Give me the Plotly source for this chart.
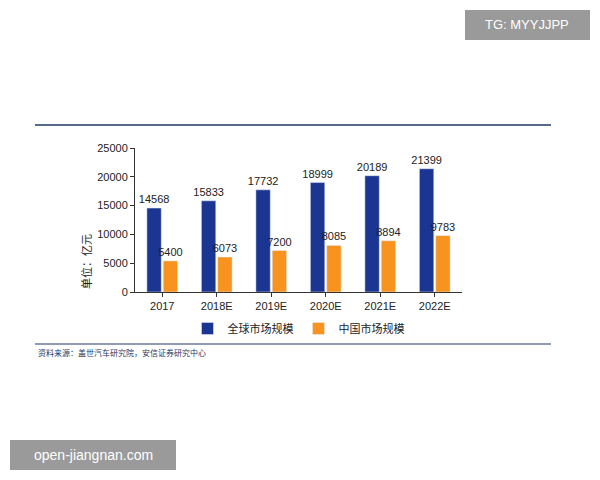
import plotly.graph_objects as go

years = ["2017", "2018E", "2019E", "2020E", "2021E", "2022E"]
global_market = [14568, 15833, 17732, 18999, 20189, 21399]
china_market = [5400, 6073, 7200, 8085, 8894, 9783]

# the page body adds an 8px margin, so lay out in page pixels minus 8
OFF = 8
W, H = 600 - 2 * OFF, 480 - 2 * OFF
L, R, T, B = 135 - OFF, 462 - OFF, 148 - OFF, 292 - OFF


def px_x(x):
    return (x - OFF - L) / (R - L)


def px_y(y):
    return (B - (y - OFF)) / (B - T)


fig = go.Figure()
fig.add_bar(x=years, y=global_market, name="全球市场规模", marker_color="#1B3592",
            text=global_market, textposition="outside", cliponaxis=False,
            constraintext="none", textfont=dict(size=11, color="#222"))
fig.add_bar(x=years, y=china_market, name="中国市场规模", marker_color="#F7931E",
            text=china_market, textposition="outside", cliponaxis=False,
            constraintext="none", textfont=dict(size=11, color="#222"))

fig.update_layout(
    width=W, height=H,
    margin=dict(l=L, r=W - R, t=T, b=H - B, autoexpand=False),
    paper_bgcolor="white", plot_bgcolor="white",
    font=dict(family="Liberation Sans, Noto Sans CJK SC, sans-serif", size=11, color="#222"),
    barmode="group", bargap=0.4, bargroupgap=0.12,
    showlegend=True,
    legend=dict(orientation="h", x=0.5, xanchor="center", y=px_y(314), yanchor="top",
                font=dict(size=11, family="Noto Sans CJK SC"), itemwidth=30,
                traceorder="normal"),
    xaxis=dict(showline=True, linecolor="#333", ticks="outside", ticklen=4,
               tickcolor="#333", showgrid=False),
    yaxis=dict(range=[0, 25000], dtick=5000, tickformat="d", showline=True,
               linecolor="#333", ticks="outside", ticklen=4, tickcolor="#333",
               showgrid=False, zeroline=False),
    shapes=[
        dict(type="line", xref="paper", yref="paper", x0=px_x(35), x1=px_x(551),
             y0=px_y(125), y1=px_y(125), line=dict(color="#1F3864", width=1.5)),
        dict(type="line", xref="paper", yref="paper", x0=px_x(35), x1=px_x(551),
             y0=px_y(344), y1=px_y(344), line=dict(color="#1F3864", width=1.2)),
        dict(type="rect", xref="paper", yref="paper", x0=px_x(465), x1=px_x(590),
             y0=px_y(40), y1=px_y(10), fillcolor="#9A9A9A", line=dict(width=0),
             layer="below"),
        dict(type="rect", xref="paper", yref="paper", x0=px_x(10), x1=px_x(176),
             y0=px_y(470), y1=px_y(440), fillcolor="#9A9A9A", line=dict(width=0),
             layer="below"),
    ],
    annotations=[
        dict(text="单位：亿元", xref="paper", yref="paper", x=px_x(86), y=px_y(262),
             xanchor="center", yanchor="middle", textangle=-90, showarrow=False,
             font=dict(size=11, family="Noto Sans CJK SC")),
        dict(text="资料来源：盖世汽车研究院，安信证券研究中心", xref="paper", yref="paper",
             x=px_x(36), y=px_y(352), xanchor="left", yanchor="middle", showarrow=False,
             font=dict(size=8, color="#1F3864", family="Noto Sans CJK SC")),
        dict(text="TG: MYYJJPP", xref="paper", yref="paper", x=px_x(527), y=px_y(25),
             xanchor="center", yanchor="middle", showarrow=False,
             font=dict(size=13, color="white", family="Liberation Sans")),
        dict(text="open-jiangnan.com", xref="paper", yref="paper", x=px_x(93), y=px_y(455),
             xanchor="center", yanchor="middle", showarrow=False,
             font=dict(size=14, color="white", family="Liberation Sans")),
    ],
)

fig.write_html("out.html")
